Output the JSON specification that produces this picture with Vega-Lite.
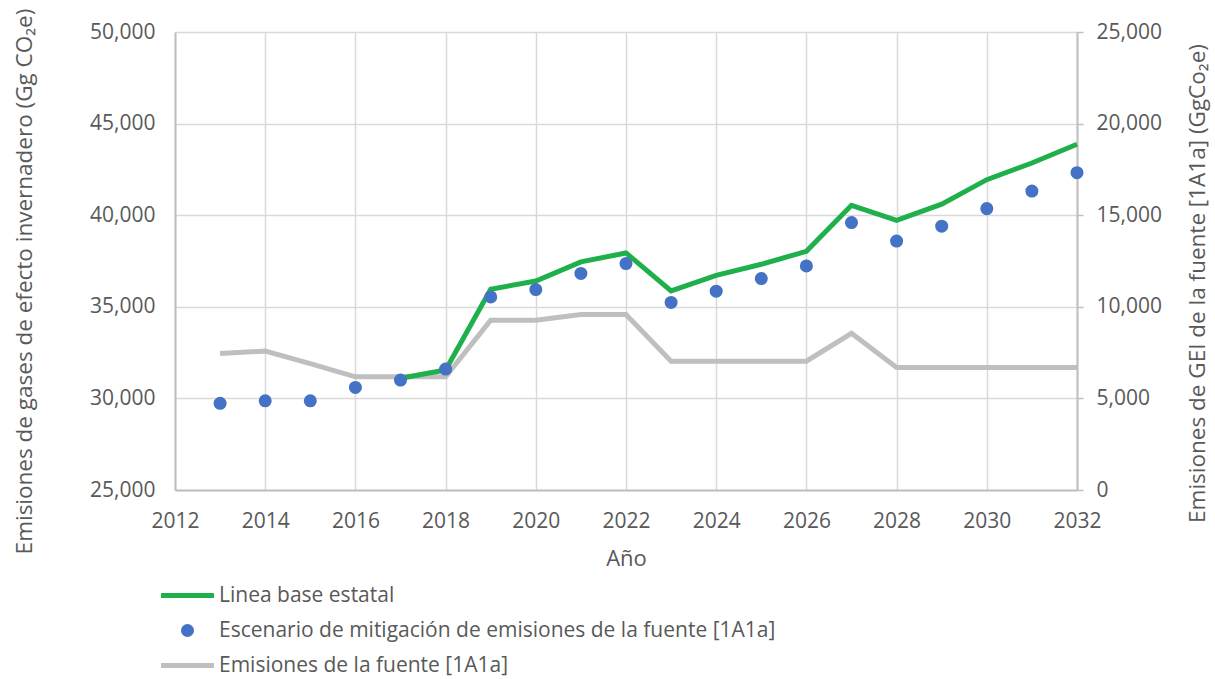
{
  "$schema": "https://vega.github.io/schema/vega-lite/v6.json",
  "width": 902,
  "height": 458,
  "autosize": {"type": "none"},
  "padding": {"left": 175, "top": 32, "right": 138, "bottom": 189},
  "background": "white",
  "config": {"view": {"stroke": null}, "font": "Open Sans"},
  "data": {
    "values": [
      {"year": 2013, "serie": "Emisiones de la fuente [1A1a]", "value": 7450},
      {"year": 2014, "serie": "Emisiones de la fuente [1A1a]", "value": 7580},
      {"year": 2015, "serie": "Emisiones de la fuente [1A1a]", "value": 6900},
      {"year": 2016, "serie": "Emisiones de la fuente [1A1a]", "value": 6180},
      {"year": 2017, "serie": "Emisiones de la fuente [1A1a]", "value": 6180},
      {"year": 2018, "serie": "Emisiones de la fuente [1A1a]", "value": 6180},
      {"year": 2019, "serie": "Emisiones de la fuente [1A1a]", "value": 9270},
      {"year": 2020, "serie": "Emisiones de la fuente [1A1a]", "value": 9270},
      {"year": 2021, "serie": "Emisiones de la fuente [1A1a]", "value": 9580},
      {"year": 2022, "serie": "Emisiones de la fuente [1A1a]", "value": 9580},
      {"year": 2023, "serie": "Emisiones de la fuente [1A1a]", "value": 7030},
      {"year": 2024, "serie": "Emisiones de la fuente [1A1a]", "value": 7030},
      {"year": 2025, "serie": "Emisiones de la fuente [1A1a]", "value": 7030},
      {"year": 2026, "serie": "Emisiones de la fuente [1A1a]", "value": 7030},
      {"year": 2027, "serie": "Emisiones de la fuente [1A1a]", "value": 8550},
      {"year": 2028, "serie": "Emisiones de la fuente [1A1a]", "value": 6690},
      {"year": 2029, "serie": "Emisiones de la fuente [1A1a]", "value": 6690},
      {"year": 2030, "serie": "Emisiones de la fuente [1A1a]", "value": 6690},
      {"year": 2031, "serie": "Emisiones de la fuente [1A1a]", "value": 6690},
      {"year": 2032, "serie": "Emisiones de la fuente [1A1a]", "value": 6690},
      {"year": 2017, "serie": "Linea base estatal", "value": 31100},
      {"year": 2018, "serie": "Linea base estatal", "value": 31550},
      {"year": 2019, "serie": "Linea base estatal", "value": 35960},
      {"year": 2020, "serie": "Linea base estatal", "value": 36410},
      {"year": 2021, "serie": "Linea base estatal", "value": 37450},
      {"year": 2022, "serie": "Linea base estatal", "value": 37940},
      {"year": 2023, "serie": "Linea base estatal", "value": 35870},
      {"year": 2024, "serie": "Linea base estatal", "value": 36720},
      {"year": 2025, "serie": "Linea base estatal", "value": 37320},
      {"year": 2026, "serie": "Linea base estatal", "value": 38030},
      {"year": 2027, "serie": "Linea base estatal", "value": 40540},
      {"year": 2028, "serie": "Linea base estatal", "value": 39720},
      {"year": 2029, "serie": "Linea base estatal", "value": 40600},
      {"year": 2030, "serie": "Linea base estatal", "value": 41940},
      {"year": 2031, "serie": "Linea base estatal", "value": 42850},
      {"year": 2032, "serie": "Linea base estatal", "value": 43870},
      {"year": 2013, "serie": "Escenario de mitigación de emisiones de la fuente [1A1a]", "value": 29730},
      {"year": 2014, "serie": "Escenario de mitigación de emisiones de la fuente [1A1a]", "value": 29870},
      {"year": 2015, "serie": "Escenario de mitigación de emisiones de la fuente [1A1a]", "value": 29870},
      {"year": 2016, "serie": "Escenario de mitigación de emisiones de la fuente [1A1a]", "value": 30600},
      {"year": 2017, "serie": "Escenario de mitigación de emisiones de la fuente [1A1a]", "value": 31000},
      {"year": 2018, "serie": "Escenario de mitigación de emisiones de la fuente [1A1a]", "value": 31600},
      {"year": 2019, "serie": "Escenario de mitigación de emisiones de la fuente [1A1a]", "value": 35540},
      {"year": 2020, "serie": "Escenario de mitigación de emisiones de la fuente [1A1a]", "value": 35940},
      {"year": 2021, "serie": "Escenario de mitigación de emisiones de la fuente [1A1a]", "value": 36820},
      {"year": 2022, "serie": "Escenario de mitigación de emisiones de la fuente [1A1a]", "value": 37360},
      {"year": 2023, "serie": "Escenario de mitigación de emisiones de la fuente [1A1a]", "value": 35240},
      {"year": 2024, "serie": "Escenario de mitigación de emisiones de la fuente [1A1a]", "value": 35850},
      {"year": 2025, "serie": "Escenario de mitigación de emisiones de la fuente [1A1a]", "value": 36540},
      {"year": 2026, "serie": "Escenario de mitigación de emisiones de la fuente [1A1a]", "value": 37230},
      {"year": 2027, "serie": "Escenario de mitigación de emisiones de la fuente [1A1a]", "value": 39600},
      {"year": 2028, "serie": "Escenario de mitigación de emisiones de la fuente [1A1a]", "value": 38590},
      {"year": 2029, "serie": "Escenario de mitigación de emisiones de la fuente [1A1a]", "value": 39400},
      {"year": 2030, "serie": "Escenario de mitigación de emisiones de la fuente [1A1a]", "value": 40360},
      {"year": 2031, "serie": "Escenario de mitigación de emisiones de la fuente [1A1a]", "value": 41320},
      {"year": 2032, "serie": "Escenario de mitigación de emisiones de la fuente [1A1a]", "value": 42320}
    ]
  },
  "encoding": {
    "x": {
      "field": "year",
      "type": "quantitative",
      "scale": {"domain": [2012, 2032], "nice": false, "zero": false},
      "axis": {
        "values": [2012, 2014, 2016, 2018, 2020, 2022, 2024, 2026, 2028, 2030, 2032],
        "format": "d",
        "grid": true,
        "gridColor": "#d9d9d9",
        "gridWidth": 1.5,
        "domainColor": "#bfbfbf",
        "domainWidth": 2,
        "ticks": false,
        "labelFlush": false,
        "labelOverlap": false,
        "labelFont": "Open Sans",
        "labelFontSize": 21,
        "labelColor": "#595959",
        "labelPadding": 20,
        "title": "Año",
        "titleFont": "Open Sans",
        "titleFontSize": 22,
        "titleFontWeight": "normal",
        "titleColor": "#595959",
        "titleX": 451,
        "titleY": 68,
        "titleBaseline": "middle"
      }
    },
    "color": {
      "field": "serie",
      "type": "nominal",
      "scale": {
        "domain": ["Linea base estatal", "Escenario de mitigación de emisiones de la fuente [1A1a]", "Emisiones de la fuente [1A1a]"],
        "range": ["#1fb04c", "#4472c4", "#bfbfbf"]
      },
      "legend": {
        "title": null,
        "orient": "none",
        "legendX": 2,
        "legendY": 553,
        "direction": "vertical",
        "symbolType": "stroke",
        "symbolSize": 2800,
        "symbolStrokeWidth": 5,
        "labelFont": "Open Sans",
        "labelFontSize": 21,
        "labelColor": "#595959",
        "labelOffset": 21,
        "labelLimit": 0,
        "rowPadding": 13,
        "encode": {
          "symbols": {
            "update": {
              "shape": {"signal": "datum.value == 'Escenario de mitigación de emisiones de la fuente [1A1a]' ? 'circle' : 'stroke'"},
              "size": {"signal": "datum.value == 'Escenario de mitigación de emisiones de la fuente [1A1a]' ? 170 : 2800"},
              "fill": {"signal": "datum.value == 'Escenario de mitigación de emisiones de la fuente [1A1a]' ? '#4472c4' : 'transparent'"},
              "strokeWidth": {"signal": "datum.value == 'Escenario de mitigación de emisiones de la fuente [1A1a]' ? 0 : 5"},
              "stroke": {"signal": "datum.value == 'Linea base estatal' ? '#1fb04c' : (datum.value == 'Emisiones de la fuente [1A1a]' ? '#bfbfbf' : '#4472c4')"},
              "opacity": {"value": 1}
            }
          }
        }
      }
    }
  },
  "layer": [
    {
      "transform": [{"filter": "datum.serie == 'Emisiones de la fuente [1A1a]'"}],
      "mark": {"type": "line", "strokeWidth": 5},
      "encoding": {
        "y": {
          "field": "value",
          "type": "quantitative",
          "scale": {"domain": [0, 25000], "nice": false},
          "axis": {
            "orient": "right",
            "values": [0, 5000, 10000, 15000, 20000, 25000],
            "format": ",d",
            "grid": false,
            "ticks": true,
            "tickSize": 6,
            "tickColor": "#bfbfbf",
            "tickWidth": 1.5,
            "domainColor": "#bfbfbf",
            "domainWidth": 2,
            "labelFont": "Open Sans",
            "labelFontSize": 21,
            "labelColor": "#595959",
            "labelPadding": 13,
            "title": "Emisiones de GEI de la fuente [1A1a] (GgCo₂e)",
            "titleFont": "Open Sans",
            "titleFontSize": 22.5,
            "titleFontWeight": "normal",
            "titleColor": "#595959",
            "titleAngle": -90,
            "titleX": 120,
            "titleY": 251,
            "titleBaseline": "middle",
            "titleAlign": "center"
          }
        }
      }
    },
    {
      "layer": [
        {
          "transform": [{"filter": "datum.serie == 'Linea base estatal'"}],
          "mark": {"type": "line", "strokeWidth": 5},
          "encoding": {
            "y": {
              "field": "value",
              "type": "quantitative",
              "scale": {"domain": [25000, 50000], "nice": false, "zero": false},
              "axis": {
                "orient": "left",
                "values": [25000, 30000, 35000, 40000, 45000, 50000],
                "format": ",d",
                "grid": true,
                "gridColor": "#d9d9d9",
                "gridWidth": 1.5,
                "ticks": false,
                "domainColor": "#bfbfbf",
                "domainWidth": 2,
                "labelFont": "Open Sans",
                "labelFontSize": 21,
                "labelColor": "#595959",
                "labelPadding": 20,
                "title": "Emisiones de gases de efecto invernadero (Gg CO₂e)",
                "titleFont": "Open Sans",
                "titleFontSize": 22.5,
                "titleFontWeight": "normal",
                "titleColor": "#595959",
                "titleAngle": -90,
                "titleX": -151,
                "titleY": 249,
                "titleBaseline": "middle",
                "titleAlign": "center"
              }
            }
          }
        },
        {
          "transform": [{"filter": "datum.serie == 'Escenario de mitigación de emisiones de la fuente [1A1a]'"}],
          "mark": {"type": "point", "filled": true, "size": 170, "opacity": 1},
          "encoding": {
            "y": {"field": "value", "type": "quantitative"}
          }
        }
      ]
    }
  ],
  "resolve": {"scale": {"y": "independent"}}
}
